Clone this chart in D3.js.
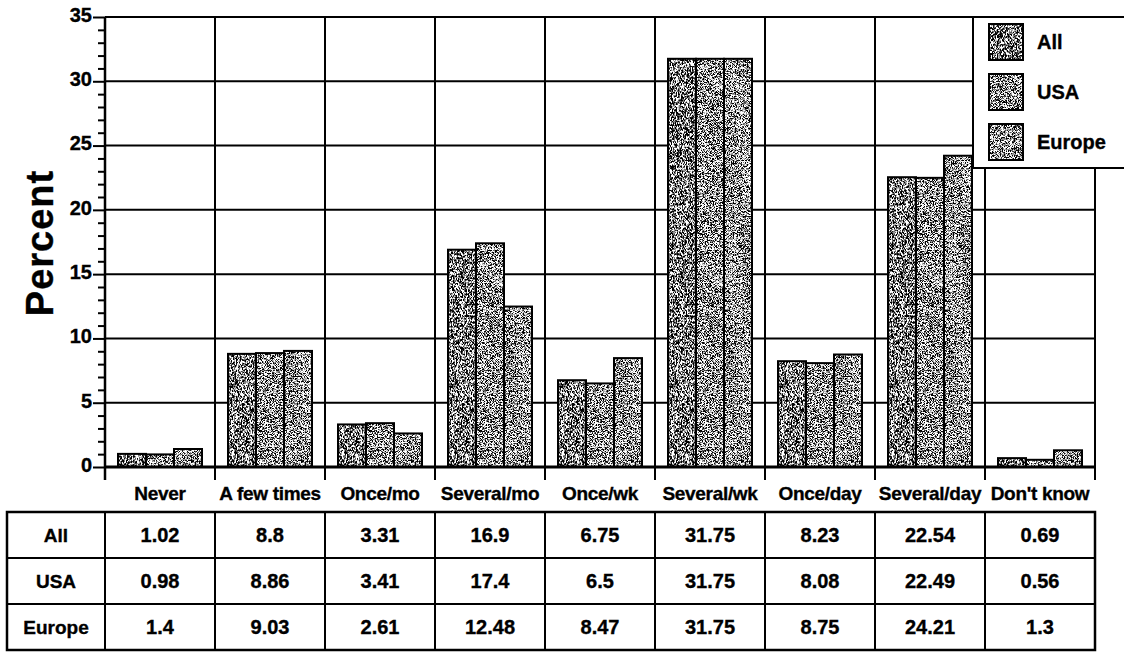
<!DOCTYPE html>
<html>
<head>
<meta charset="utf-8">
<script src="https://cdn.jsdelivr.net/npm/d3@7"></script>
<style>
  html, body { margin: 0; padding: 0; background: #fff; }
  svg { display: block; }
  .lbl { font-family: "Liberation Sans", Arial, Helvetica, sans-serif; font-weight: bold; fill: #000; stroke: #000; stroke-width: 0.35px; }
</style>
</head>
<body>
<svg id="chart" width="1124" height="657"></svg>
<script>
// Frequency categories
const categories = ["Never", "A few times", "Once/mo", "Several/mo", "Once/wk", "Several/wk", "Once/day", "Several/day", "Don't know"];
// Series names
const seriesNames = ["All", "USA", "Europe"];
// Percent values per series
const allValues = [1.02, 8.8, 3.31, 16.9, 6.75, 31.75, 8.23, 22.54, 0.69];
const usaValues = [0.98, 8.86, 3.41, 17.4, 6.5, 31.75, 8.08, 22.49, 0.56];
const europeValues = [1.4, 9.03, 2.61, 12.48, 8.47, 31.75, 8.75, 24.21, 1.3];
// Y axis tick labels
const yTicks = [0, 5, 10, 15, 20, 25, 30, 35];

const seriesValues = [allValues, usaValues, europeValues];

const svg = d3.select("#chart");

const plot = { left: 105, right: 1095, top: 17, bottom: 467 };

const x = d3.scaleBand().domain(categories).range([plot.left, plot.right]);
const xs = d3.scaleBand().domain(seriesNames).range([13, 97]);
const y = d3.scaleLinear().domain([0, 35]).range([plot.bottom, plot.top]);

// Stippled grey fills, one per series
const grain = [
  { gray: 0.46, freq: "2.2 0.5", seed: 4 },
  { gray: 0.6, freq: "1.6 1.3", seed: 9 },
  { gray: 0.62, freq: "1.5 1.2", seed: 17 }
];
const defs = svg.append("defs");
grain.forEach((g, i) => {
  const f = defs.append("filter")
    .attr("id", "grain-" + i)
    .attr("x", "-5%").attr("y", "-5%")
    .attr("width", "110%").attr("height", "110%")
    .attr("color-interpolation-filters", "sRGB");
  f.append("feTurbulence")
    .attr("type", "fractalNoise")
    .attr("baseFrequency", g.freq)
    .attr("numOctaves", 2)
    .attr("seed", g.seed)
    .attr("result", "noise");
  const k = 6, b = g.gray - k * 0.5;
  f.append("feColorMatrix")
    .attr("in", "noise")
    .attr("type", "matrix")
    .attr("values", `${k} 0 0 0 ${b}  ${k} 0 0 0 ${b}  ${k} 0 0 0 ${b}  0 0 0 0 1`)
    .attr("result", "speck");
  f.append("feComposite")
    .attr("in", "speck")
    .attr("in2", "SourceAlpha")
    .attr("operator", "in");
});

// Horizontal grid lines
svg.append("g")
  .selectAll("line")
  .data(yTicks.filter(d => d > 0))
  .join("line")
  .attr("x1", plot.left)
  .attr("x2", d => d === 35 ? 1124 : plot.right)
  .attr("y1", d => y(d))
  .attr("y2", d => y(d))
  .attr("stroke", "#000")
  .attr("stroke-width", 2);

// Vertical grid lines at category boundaries
const bounds = categories.map(c => x(c)).concat([plot.right]);
svg.append("g")
  .selectAll("line")
  .data(bounds)
  .join("line")
  .attr("x1", d => d).attr("x2", d => d)
  .attr("y1", plot.top).attr("y2", 480)
  .attr("stroke", "#000")
  .attr("stroke-width", 2);

// Bars
const groups = svg.append("g")
  .selectAll("g")
  .data(categories)
  .join("g")
  .attr("transform", d => `translate(${x(d)},0)`);

const barData = ci => seriesNames.map((s, si) => ({ s, si, v: seriesValues[si][ci] }));

groups.each(function (c, ci) {
  const g = d3.select(this);
  const bars = barData(ci);
  g.selectAll("rect.fill")
    .data(bars)
    .join("rect")
    .attr("class", "fill")
    .attr("x", d => xs(d.s))
    .attr("y", d => y(d.v))
    .attr("width", xs.bandwidth())
    .attr("height", d => y(0) - y(d.v))
    .attr("fill", "#888")
    .attr("filter", d => `url(#grain-${d.si})`);
  g.selectAll("rect.edge")
    .data(bars)
    .join("rect")
    .attr("class", "edge")
    .attr("x", d => xs(d.s))
    .attr("y", d => y(d.v))
    .attr("width", xs.bandwidth())
    .attr("height", d => y(0) - y(d.v))
    .attr("fill", "none")
    .attr("stroke", "#000")
    .attr("stroke-width", 2);
});

// Y axis: major ticks with labels, minor ticks every unit
const yAxis = svg.append("g")
  .attr("transform", `translate(${plot.left},0)`)
  .call(d3.axisLeft(y).tickValues(yTicks).tickSize(12).tickPadding(1));
yAxis.select(".domain").remove();
yAxis.selectAll(".tick line").attr("stroke", "#000").attr("stroke-width", 2);
yAxis.selectAll(".tick text")
  .attr("class", "lbl")
  .attr("font-size", 20)
  .attr("dy", "0.22em");

const minor = svg.append("g")
  .attr("transform", `translate(${plot.left},0)`)
  .call(d3.axisLeft(y).tickValues(d3.range(0, 36).filter(v => v % 5 !== 0)).tickSize(7).tickFormat(""));
minor.select(".domain").remove();
minor.selectAll(".tick line").attr("stroke", "#000").attr("stroke-width", 2);

svg.append("line")
  .attr("x1", plot.left).attr("x2", plot.left)
  .attr("y1", plot.top).attr("y2", 480)
  .attr("stroke", "#000").attr("stroke-width", 2.5);

// Baseline
svg.append("line")
  .attr("x1", plot.left).attr("x2", plot.right)
  .attr("y1", y(0)).attr("y2", y(0))
  .attr("stroke", "#000").attr("stroke-width", 3);

// Y axis title
svg.append("text")
  .attr("class", "lbl")
  .attr("transform", "translate(53,243) rotate(-90)")
  .attr("text-anchor", "middle")
  .attr("font-size", 38)
  .attr("letter-spacing", 1)
  .text("Percent");

// Category labels
svg.append("g")
  .selectAll("text")
  .data(categories)
  .join("text")
  .attr("class", "lbl")
  .attr("x", d => x(d) + x.bandwidth() / 2)
  .attr("y", 500)
  .attr("text-anchor", "middle")
  .attr("font-size", 19)
  .attr("letter-spacing", -0.3)
  .text(d => d);

// Legend
const legend = svg.append("g");
legend.append("rect")
  .attr("x", 973).attr("y", 17)
  .attr("width", 170).attr("height", 151)
  .attr("fill", "#fff")
  .attr("stroke", "#000").attr("stroke-width", 2);
const legendY = d3.scalePoint().domain(seriesNames).range([42, 142]);
legend.selectAll("rect.sw")
  .data(seriesNames)
  .join("rect")
  .attr("class", "sw")
  .attr("x", 989).attr("y", d => legendY(d) - 18)
  .attr("width", 34).attr("height", 36)
  .attr("fill", "#888")
  .attr("filter", (d, i) => `url(#grain-${i})`);
legend.selectAll("rect.swe")
  .data(seriesNames)
  .join("rect")
  .attr("class", "swe")
  .attr("x", 989).attr("y", d => legendY(d) - 18)
  .attr("width", 34).attr("height", 36)
  .attr("fill", "none")
  .attr("stroke", "#000").attr("stroke-width", 2);
legend.selectAll("text")
  .data(seriesNames)
  .join("text")
  .attr("class", "lbl")
  .attr("x", 1037).attr("y", d => legendY(d) + 7)
  .attr("font-size", 20)
  .text(d => d);

// Data table below the chart
const table = { left: 7, right: plot.right, top: 512, rowH: 46 };
const rowY = d3.scaleBand().domain(seriesNames).range([table.top, table.top + table.rowH * 3]);
const tg = svg.append("g");
tg.append("rect")
  .attr("x", table.left).attr("y", table.top)
  .attr("width", table.right - table.left).attr("height", table.rowH * 3)
  .attr("fill", "none").attr("stroke", "#000").attr("stroke-width", 2.5);
tg.selectAll("line.row")
  .data(seriesNames.slice(1))
  .join("line")
  .attr("class", "row")
  .attr("x1", table.left).attr("x2", table.right)
  .attr("y1", d => rowY(d)).attr("y2", d => rowY(d))
  .attr("stroke", "#000").attr("stroke-width", 2);
tg.selectAll("line.col")
  .data(categories)
  .join("line")
  .attr("class", "col")
  .attr("x1", d => x(d)).attr("x2", d => x(d))
  .attr("y1", table.top).attr("y2", table.top + table.rowH * 3)
  .attr("stroke", "#000").attr("stroke-width", 2);
tg.selectAll("text.rowlabel")
  .data(seriesNames)
  .join("text")
  .attr("class", "lbl rowlabel")
  .attr("x", (table.left + plot.left) / 2)
  .attr("y", d => rowY(d) + rowY.bandwidth() / 2 + 7)
  .attr("text-anchor", "middle")
  .attr("font-size", 19)
  .text(d => d);
seriesNames.forEach((s, si) => {
  tg.selectAll(`text.v${si}`)
    .data(seriesValues[si])
    .join("text")
    .attr("class", `lbl v${si}`)
    .attr("x", (d, i) => x(categories[i]) + x.bandwidth() / 2)
    .attr("y", rowY(s) + rowY.bandwidth() / 2 + 7)
    .attr("text-anchor", "middle")
    .attr("font-size", 20)
    .text(d => String(d));
});
</script>
</body>
</html>
